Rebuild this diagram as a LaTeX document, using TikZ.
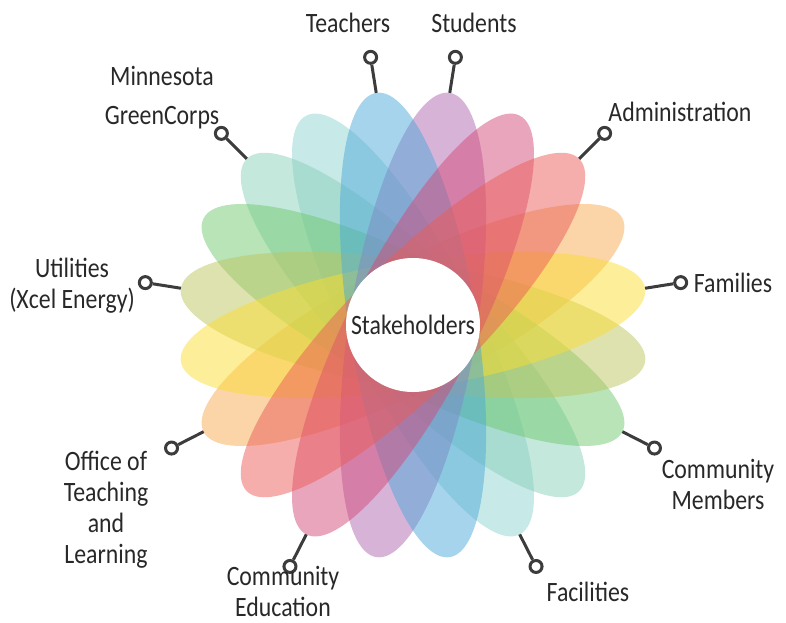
\documentclass[tikz,border=0pt]{standalone}
\usepackage{fontspec}
\setmainfont{Carlito}
\newfontfamily\labfont[FakeStretch=0.85]{Carlito}
\definecolor{cCyan}{RGB}{143,211,209}
\definecolor{cMint}{RGB}{139,209,185}
\definecolor{cGreen}{RGB}{113,201,113}
\definecolor{cKhaki}{RGB}{189,197,95}
\definecolor{cYellow}{RGB}{251,221,51}
\definecolor{cPeach}{RGB}{247,169,81}
\definecolor{cSalmon}{RGB}{235,93,89}
\definecolor{cPink}{RGB}{211,75,119}
\definecolor{cPurple}{RGB}{177,103,177}
\definecolor{cBlue}{RGB}{77,169,217}
\definecolor{dk}{RGB}{60,60,60}
\definecolor{txt}{RGB}{40,40,40}
\begin{document}
\begin{tikzpicture}[x=1pt,y=1pt,
  petal/.style={fill=#1, fill opacity=0.5},
  lab/.style={font=\labfont\fontsize{28}{31}\selectfont, text=txt, align=center, inner sep=0pt},
  dot/.style={circle, draw=dk, line width=3pt, fill=white, minimum size=12pt, inner sep=0pt},
  conn/.style={draw=dk, line width=3pt}]
\useasboundingbox (-413,-297) rectangle (373,325);
% petals
\foreach \ang/\col in {27/cPeach,117/cCyan,135/cMint,153/cGreen,171/cKhaki,9/cYellow,81/cPurple,99/cBlue,63/cPink,45/cSalmon}{
  \fill[petal=\col, rotate=\ang] (0,0) ellipse [x radius=235pt, y radius=64pt];
}
% centre
\node[circle, fill=white, minimum size=134pt, inner sep=0pt, lab] (hub) at (0,0) {Stakeholders};
% connector tips and dots
\foreach \nm/\ang in {T/99,S/81,A/45,F/9,CM/-27,Fa/-63,CE/-117,O/-153,U/171,M/135}{
  \coordinate (t\nm) at (\ang:235);
  \node[dot] (d\nm) at (\ang:271) {};
  \draw[conn] (t\nm) -- (d\nm);
}
% labels
\node[lab] (lT) at (-65,302) {Teachers};
\node[lab] (lS) at (61,302) {Students};
\node[lab] (lA) at (267,213) {Administration};
\node[lab] (lF) at (320,42) {Families};
\node[lab] (lCM) at (305,-159) {Community\\Members};
\node[lab] (lFa) at (175,-267) {Facilities};
\node[lab] (lCE) at (-130,-266) {Community\\Education};
\node[lab] (lO) at (-307,-185) {Office of\\Teaching\\and\\Learning};
\node[lab] (lU) at (-341,39) {Utilities\\(Xcel Energy)};
\node[lab] (lM) at (-251,227.5) {Minnesota\\[8pt]GreenCorps};
\end{tikzpicture}
\end{document}
